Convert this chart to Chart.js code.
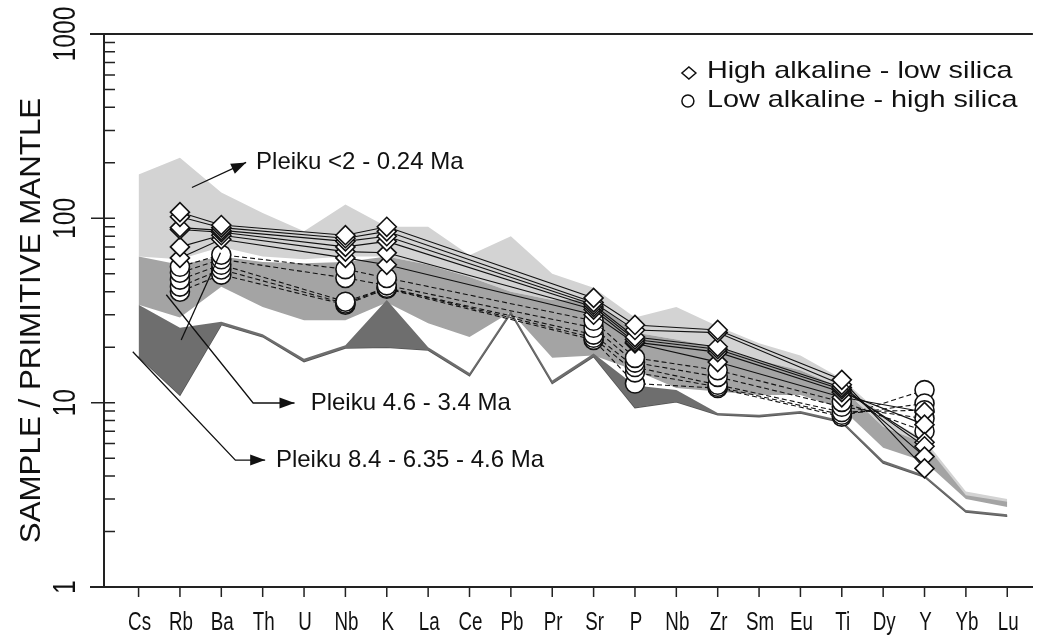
<!DOCTYPE html>
<html>
<head>
<meta charset="utf-8">
<script src="https://cdn.jsdelivr.net/npm/chart.js@4.4.1/dist/chart.umd.min.js"></script>
<style>
  html, body { margin: 0; padding: 0; background: #fff; }
  #wrap { width: 1044px; height: 637px; }
</style>
</head>
<body>
<div id="wrap"><canvas id="spider"></canvas></div>
<script>
// element order on the x axis (Nb appears twice)
const elements = ['Cs', 'Rb', 'Ba', 'Th', 'U', 'Nb', 'K', 'La', 'Ce', 'Pb', 'Pr', 'Sr', 'P', 'Nb', 'Zr', 'Sm', 'Eu', 'Ti', 'Dy', 'Y', 'Yb', 'Lu'];
const decades = [1, 10, 100, 1000];

// shaded fields, upper and lower envelopes
const youngTop  = [173, 213, 138, 107, 85, 119, 90, 90, 63, 80, 50, 42, 29, 33, 26, 21, 18, 13.5, 8.5, 6.3, 3.3, 3.0];
const youngBase = [62, 60, 70, 62, 60, 62, 62, 56, 48, 40, 36, 36, 24, 22, 20, 17, 15, 12, 7.4, 6.0, 3.1, 2.85];
const midTop    = [62, 56, 62, 58, 57, 58, 62, 56, 48, 40, 36, 36, 24, 22, 20, 17, 15, 12, 7.4, 6.0, 3.15, 2.9];
const midBase   = [34, 29, 42.5, 33, 28, 28, 35, 27, 22.7, 31, 17.5, 18, 15, 12, 11.5, 11, 11, 9.3, 5.7, 4.8, 3.0, 2.72];
const oldTop    = [34, 25.5, 27.5, 23.5, 17.3, 20.5, 36, 20, 14.5, 31.5, 13.2, 18.5, 12.4, 11.7, 8.8, 8.6, 9.0, 8.0, 4.85, 4.05, 2.62, 2.48];
const oldBase   = [17.8, 11, 26.5, 22.8, 16.7, 19.8, 20, 19.3, 14, 30.5, 12.7, 17.8, 9.4, 10.1, 8.6, 8.4, 8.8, 7.8, 4.7, 3.95, 2.55, 2.42];

// samples: high alkaline - low silica (diamonds)
const highAlk1 = [null, 108, 92, null, null, 81, 90, null, null, null, null, 37, 26.4, null, 24.8, null, null, 13.3, null, 4.4, null, null];
const highAlk2 = [null, 102, 89, null, null, 78, 85, null, null, null, null, 35, 24.8, null, 24, null, null, 12.5, null, 5.1, null, null];
const highAlk3 = [null, 89, 86, null, null, 75, 80, null, null, null, null, 34, 22.7, null, 20.1, null, null, 12.1, null, 5.8, null, null];
const highAlk4 = [null, 87, 84, null, null, 70, 75, null, null, null, null, 33, 22, null, 19.5, null, null, 11.8, null, 6.1, null, null];
const highAlk5 = [null, 70, 81, null, null, 66, 65, null, null, null, null, 32, 21.3, null, 18.8, null, null, 11.4, null, 7.6, null, null];
const highAlk6 = [null, 61, 77, null, null, 61, 56, null, null, null, null, 30, 21, null, 16.6, null, null, 10.7, null, 8.9, null, null];

// samples: low alkaline - high silica (circles)
const lowAlk1 = [null, 54.6, 63.5, null, null, 53, 47.5, null, null, null, null, 27.8, 17.5, null, 15, null, null, 10.1, null, 7, null, null];
const lowAlk2 = [null, 50.7, 60, null, null, 47.5, 43.3, null, null, null, null, 25.5, 16.5, null, 13.8, null, null, 9.5, null, 8.2, null, null];
const lowAlk3 = [null, 46.5, 56, null, null, 35.3, 42, null, null, null, null, 23.4, 15.6, null, 12.5, null, null, 8.9, null, 9.1, null, null];
const lowAlk4 = [null, 42.6, 52.8, null, null, 34.5, 42, null, null, null, null, 22.5, 14.6, null, 12.2, null, null, 8.6, null, 9.9, null, null];
const lowAlk5 = [null, 40, 49.5, null, null, 34, 41.5, null, null, null, null, 21.9, 12.7, null, 12, null, null, 8.4, null, 11.7, null, null];

const highAlk = [highAlk1, highAlk2, highAlk3, highAlk4, highAlk5, highAlk6];
const lowAlk = [lowAlk1, lowAlk2, lowAlk3, lowAlk4, lowAlk5];

// labels with leader arrows, in axis units (element index, value)
const notes = [
  { text: 'Pleiku <2 - 0.24 Ma', path: [[1.29, 147], [2.6, 201]], at: [2.84, 202] },
  { text: 'Pleiku 4.6 - 3.4 Ma', path: [[0.67, 38.5], [2.77, 9.96], [3.77, 9.96]], at: [4.16, 9.96] },
  { text: 'Pleiku 8.4 - 6.35 - 4.6 Ma', path: [[-0.14, 18.9], [2.34, 4.88], [3.06, 4.88]], at: [3.32, 4.88] }
];
const extraLeader = [[1.03, 21.9], [1.98, 65]];

const FONT = '"Liberation Sans", Arial, sans-serif';

function toPoints(vals) {
    return vals.map((v, i) => v == null ? null : { x: i, y: v }).filter(p => p);
}

function band(top, bottom, color, order, edge) {
    return [
        { data: toPoints(top), fill: '+1', backgroundColor: color, borderColor: 'transparent', borderWidth: 0, pointRadius: 0, order: order },
        { data: toPoints(bottom), fill: false, borderColor: edge || 'transparent', borderWidth: edge ? 1.5 : 0, pointRadius: 0, order: order }
    ];
}

function sample(vals, style, dashed) {
    return {
        data: toPoints(vals),
        fill: false,
        borderColor: '#111',
        borderWidth: 1.1,
        borderDash: dashed ? [5, 3] : [],
        pointStyle: style,
        pointRadius: 9.5,
        pointBackgroundColor: '#fff',
        pointBorderColor: '#111',
        pointBorderWidth: 1.6,
        order: 0
    };
}

function drawText(ctx, text, x, y, size, sx, align, baseline, rotate) {
    ctx.save();
    ctx.translate(x, y);
    if (rotate) ctx.rotate(-Math.PI / 2);
    ctx.scale(sx, 1);
    ctx.font = size + 'px ' + FONT;
    ctx.textAlign = align;
    ctx.textBaseline = baseline;
    ctx.fillStyle = '#111';
    ctx.fillText(text, 0, 0);
    ctx.restore();
}

const framePlugin = {
    id: 'frame',
    afterDraw(chart) {
        const ctx = chart.ctx;
        const area = chart.chartArea;
        const xs = chart.scales.x;
        const ys = chart.scales.y;
        ctx.save();
        ctx.strokeStyle = '#222';
        ctx.lineWidth = 2;
        // top line and left stubs of the frame
        ctx.beginPath();
        ctx.moveTo(area.left - 14, area.top);
        ctx.lineTo(area.right, area.top);
        ctx.moveTo(area.left - 14, area.bottom);
        ctx.lineTo(area.left, area.bottom);
        ctx.stroke();

        // y ticks: majors cross the axis, minors point inward
        ctx.lineWidth = 1.5;
        ctx.beginPath();
        decades.forEach(d => {
            const py = ys.getPixelForValue(d);
            ctx.moveTo(area.left - 13, py);
            ctx.lineTo(area.left + 11, py);
            if (d < 1000) {
                for (let m = 2; m <= 9; m++) {
                    const my = ys.getPixelForValue(d * m);
                    ctx.moveTo(area.left, my);
                    ctx.lineTo(area.left + 11, my);
                }
            }
        });
        // x ticks
        elements.forEach((el, i) => {
            const px = xs.getPixelForValue(i);
            ctx.moveTo(px, area.bottom);
            ctx.lineTo(px, area.bottom + 10);
        });
        ctx.stroke();

        // tick labels
        decades.forEach(d => {
            drawText(ctx, String(d), 66, ys.getPixelForValue(d), 31, 0.8, 'center', 'middle', true);
        });
        elements.forEach((el, i) => {
            drawText(ctx, el, xs.getPixelForValue(i) + 1, area.bottom + 43, 25, 0.75, 'center', 'alphabetic', false);
        });
        drawText(ctx, 'SAMPLE / PRIMITIVE MANTLE', 32, (area.top + area.bottom) / 2 + 10, 29, 1.08, 'center', 'middle', true);

        // legend
        const lx = area.right - 344;
        ctx.fillStyle = '#fff';
        ctx.strokeStyle = '#111';
        ctx.lineWidth = 1.5;
        ctx.beginPath();
        ctx.moveTo(lx - 7, area.top + 39);
        ctx.lineTo(lx, area.top + 33);
        ctx.lineTo(lx + 7, area.top + 39);
        ctx.lineTo(lx, area.top + 45);
        ctx.closePath();
        ctx.fill();
        ctx.stroke();
        ctx.beginPath();
        ctx.arc(lx - 1, area.top + 67, 6, 0, Math.PI * 2);
        ctx.fill();
        ctx.stroke();
        drawText(ctx, 'High alkaline - low silica', lx + 18, area.top + 37, 24, 1.2, 'left', 'middle', false);
        drawText(ctx, 'Low alkaline - high silica', lx + 18, area.top + 66, 24, 1.2, 'left', 'middle', false);

        // leader lines and field labels
        const px = p => [xs.getPixelForValue(p[0]), ys.getPixelForValue(p[1])];
        ctx.strokeStyle = '#111';
        ctx.fillStyle = '#111';
        ctx.lineWidth = 1.3;
        notes.forEach(n => {
            const pts = n.path.map(px);
            ctx.beginPath();
            ctx.moveTo(pts[0][0], pts[0][1]);
            pts.slice(1).forEach(p => ctx.lineTo(p[0], p[1]));
            ctx.stroke();
            const a = pts[pts.length - 2];
            const b = pts[pts.length - 1];
            const ang = Math.atan2(b[1] - a[1], b[0] - a[0]);
            ctx.save();
            ctx.translate(b[0], b[1]);
            ctx.rotate(ang);
            ctx.beginPath();
            ctx.moveTo(0, 0);
            ctx.lineTo(-15, -5.5);
            ctx.lineTo(-15, 5.5);
            ctx.closePath();
            ctx.fill();
            ctx.restore();
            const t = px(n.at);
            drawText(ctx, n.text, t[0], t[1], 24, 1, 'left', 'middle', false);
        });
        const e = extraLeader.map(px);
        ctx.beginPath();
        ctx.moveTo(e[0][0], e[0][1]);
        ctx.lineTo(e[1][0], e[1][1]);
        ctx.stroke();
        ctx.restore();
    }
};

const datasets = [].concat(
    band(youngTop, youngBase, '#d3d3d3', 3),
    band(midTop, midBase, '#a4a4a4', 2),
    band(oldTop, oldBase, '#6e6e6e', 1, '#555'),
    highAlk.map(s => sample(s, 'rectRot', false)),
    lowAlk.map(s => sample(s, 'circle', true))
);

new Chart(document.getElementById('spider'), {
    type: 'line',
    data: { datasets: datasets },
    options: {
        responsive: true,
        maintainAspectRatio: false,
        animation: false,
        devicePixelRatio: 1,
        layout: { padding: { top: 34, left: 0, right: 0, bottom: 0 } },
        elements: { line: { tension: 0 } },
        plugins: {
            legend: { display: false },
            tooltip: { enabled: false }
        },
        scales: {
            x: {
                type: 'linear',
                min: -0.836,
                max: 21.62,
                grid: { display: false, drawTicks: false },
                ticks: { display: false },
                border: { display: true, color: '#222', width: 2 },
                afterFit: s => { s.height = 50; }
            },
            y: {
                type: 'logarithmic',
                min: 1,
                max: 1000,
                grid: { display: false, drawTicks: false },
                ticks: { display: false },
                border: { display: true, color: '#222', width: 2 },
                afterFit: s => { s.width = 104; }
            }
        }
    },
    plugins: [framePlugin]
});
</script>
</body>
</html>
